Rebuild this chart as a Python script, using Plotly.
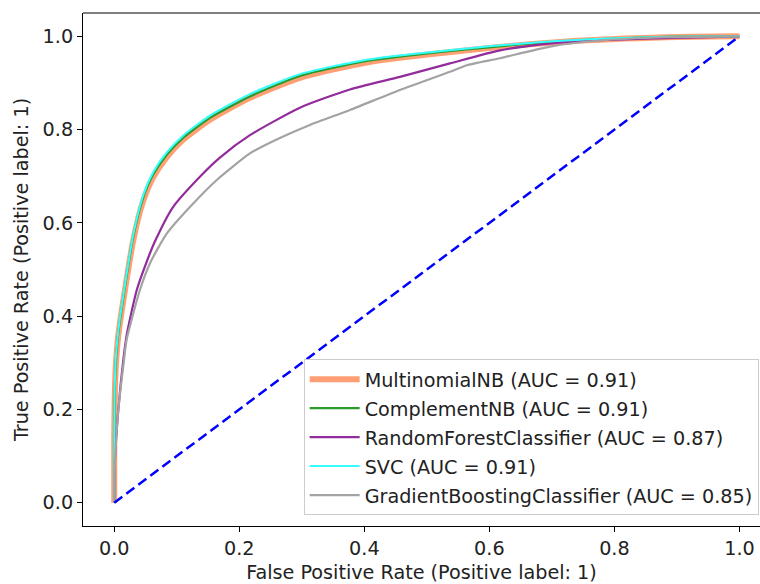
import plotly.graph_objects as go

# ROC curve data
mnb_fpr = [0.0, 0.0, 0.002, 0.005, 0.009, 0.017, 0.030, 0.046, 0.062, 0.084, 0.110, 0.153, 0.217, 0.297, 0.404, 0.564, 0.724, 0.884, 1.0]
mnb_tpr = [0.0, 0.15, 0.28, 0.34, 0.385, 0.455, 0.560, 0.646, 0.697, 0.741, 0.778, 0.821, 0.868, 0.911, 0.944, 0.970, 0.989, 0.998, 1.0]

cnb_fpr = [0.0, 0.0, 0.002, 0.005, 0.009, 0.017, 0.030, 0.046, 0.062, 0.084, 0.110, 0.153, 0.217, 0.297, 0.404, 0.564, 0.724, 0.884, 1.0]
cnb_tpr = [0.0, 0.16, 0.29, 0.345, 0.39, 0.462, 0.568, 0.653, 0.703, 0.746, 0.782, 0.825, 0.871, 0.915, 0.947, 0.972, 0.990, 0.999, 1.0]

rf_fpr = [0.0, 0.001, 0.0064, 0.0144, 0.020, 0.036, 0.050, 0.065, 0.094, 0.137, 0.169, 0.217, 0.297, 0.377, 0.457, 0.537, 0.617, 0.700, 0.777, 1.0]
rf_tpr = [0.0, 0.09, 0.198, 0.305, 0.360, 0.456, 0.510, 0.560, 0.634, 0.699, 0.740, 0.788, 0.847, 0.886, 0.913, 0.942, 0.970, 0.985, 0.992, 1.0]

svc_fpr = [0.0, 0.0, 0.002, 0.005, 0.009, 0.017, 0.030, 0.046, 0.062, 0.084, 0.110, 0.153, 0.217, 0.297, 0.404, 0.564, 0.724, 0.884, 1.0]
svc_tpr = [0.0, 0.17, 0.30, 0.35, 0.395, 0.466, 0.572, 0.658, 0.708, 0.751, 0.787, 0.830, 0.876, 0.919, 0.950, 0.974, 0.991, 0.999, 1.0]

gb_fpr = [0.0, 0.001, 0.0064, 0.0155, 0.0197, 0.041, 0.057, 0.084, 0.121, 0.164, 0.217, 0.249, 0.313, 0.377, 0.457, 0.537, 0.564, 0.617, 0.697, 0.777, 0.884, 1.0]
gb_tpr = [0.0, 0.08, 0.198, 0.305, 0.349, 0.456, 0.513, 0.577, 0.634, 0.692, 0.749, 0.772, 0.810, 0.842, 0.885, 0.924, 0.938, 0.953, 0.978, 0.991, 0.998, 1.0]

diag_x = [0.0, 1.0]
diag_y = [0.0, 1.0]

names = [
    "MultinomialNB (AUC = 0.91)",
    "ComplementNB (AUC = 0.91)",
    "RandomForestClassifier (AUC = 0.87)",
    "SVC (AUC = 0.91)",
    "GradientBoostingClassifier (AUC = 0.85)",
]
x_ticks = [0.0, 0.2, 0.4, 0.6, 0.8, 1.0]
y_ticks = [0.0, 0.2, 0.4, 0.6, 0.8, 1.0]
tick_text = ["0.0", "0.2", "0.4", "0.6", "0.8", "1.0"]

FONT = "DejaVu Sans"
FS = 19.2
TXT = "#222"

fig = go.Figure()
series = [
    (mnb_fpr, mnb_tpr, "#ff9f73", 6),
    (cnb_fpr, cnb_tpr, "#2a9a2a", 2.2),
    (rf_fpr, rf_tpr, "#922b9b", 2.2),
    (svc_fpr, svc_tpr, "#33ffff", 2),
    (gb_fpr, gb_tpr, "#a3a3a3", 2.2),
]
for i, ((xs, ys, color, w), name) in enumerate(zip(series, names)):
    fig.add_trace(go.Scatter(
        x=xs, y=ys, mode="lines", name=name,
        line=dict(color=color, width=w, shape="spline", smoothing=0.6),
        legendgroup=f"g{i}",
    ))

fig.add_trace(go.Scatter(
    x=diag_x, y=diag_y, mode="lines", showlegend=False,
    line=dict(color="#0000ff", width=2.5, dash="10px,5px"),
))

axis_common = dict(
    showgrid=False, zeroline=False, showline=True, linecolor="black", linewidth=1.1,
    ticks="outside", ticklen=5, tickwidth=1.1, tickcolor="black",
    tickfont=dict(family=FONT, size=FS, color=TXT),
)

fig.update_layout(
    width=760, height=584,
    margin=dict(l=83, r=0, t=13, b=58),
    paper_bgcolor="white", plot_bgcolor="white",
    font=dict(family=FONT, size=FS, color=TXT),
    xaxis=dict(**axis_common, range=[-0.05, 1.0329], tickvals=x_ticks, ticktext=tick_text,
               title=dict(text="False Positive Rate (Positive label: 1)", standoff=6,
                          font=dict(family=FONT, size=FS, color=TXT))),
    yaxis=dict(**axis_common, range=[-0.05, 1.05], tickvals=y_ticks, ticktext=tick_text,
               title=dict(text="True Positive Rate (Positive label: 1)", standoff=8,
                          font=dict(family=FONT, size=FS, color=TXT))),
    legend=dict(
        x=0.998, y=0.021, xanchor="right", yanchor="bottom",
        bgcolor="rgba(255,255,255,0.8)", bordercolor="#cccccc", borderwidth=1,
        font=dict(family=FONT, size=FS, color=TXT),
        tracegroupgap=1, itemwidth=50,
    ),
    shapes=[dict(type="line", xref="paper", yref="paper", x0=0, x1=1, y0=1, y1=1,
                 line=dict(color="black", width=1.1))],
    showlegend=True,
)

fig.write_html(
    "out.html",
    config={"displayModeBar": False},
    post_script="document.body.style.margin='0';document.documentElement.style.overflow='hidden';",
)
